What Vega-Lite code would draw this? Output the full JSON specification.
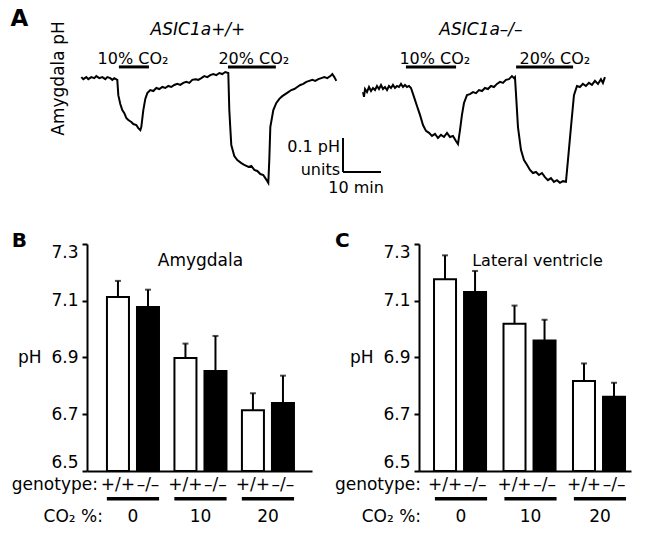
{
  "$schema": "https://vega.github.io/schema/vega-lite/v6.json",
  "background": "white",
  "padding": {"left": 10, "top": 7, "right": 5, "bottom": 5},
  "config": {
    "view": {"stroke": null},
    "font": "DejaVu Sans",
    "text": {"font": "DejaVu Sans", "fontSize": 17, "color": "black"},
    "axis": {"labelFont": "DejaVu Sans", "titleFont": "DejaVu Sans"}
  },
  "datasets": {
    "wt": [
      {"t":0,"pH":7.232},{"t":0.53,"pH":7.226},{"t":1.32,"pH":7.232},{"t":1.84,"pH":7.226},{"t":2.63,"pH":7.232},{"t":3.42,"pH":7.229},{"t":3.95,"pH":7.235},{"t":4.74,"pH":7.229},{"t":5.53,"pH":7.232},{"t":6.32,"pH":7.226},{"t":6.84,"pH":7.232},{"t":7.63,"pH":7.229},{"t":8.16,"pH":7.224},{"t":8.68,"pH":7.229},{"t":9.47,"pH":7.224},
      {"t":9.74,"pH":7.179},{"t":10.26,"pH":7.153},{"t":10.79,"pH":7.135},{"t":11.32,"pH":7.126},{"t":11.84,"pH":7.112},{"t":12.37,"pH":7.106},{"t":13.16,"pH":7.1},{"t":13.68,"pH":7.094},{"t":14.47,"pH":7.091},{"t":15.0,"pH":7.082},{"t":15.53,"pH":7.076},{"t":15.79,"pH":7.085},
      {"t":16.32,"pH":7.135},{"t":16.84,"pH":7.168},{"t":17.37,"pH":7.185},{"t":18.16,"pH":7.194},{"t":18.95,"pH":7.191},{"t":19.74,"pH":7.2},{"t":20.53,"pH":7.197},{"t":21.32,"pH":7.203},{"t":22.11,"pH":7.2},{"t":22.89,"pH":7.206},{"t":23.68,"pH":7.203},{"t":24.47,"pH":7.209},{"t":25.26,"pH":7.212},{"t":26.05,"pH":7.209},{"t":26.84,"pH":7.215},{"t":27.63,"pH":7.218},{"t":28.42,"pH":7.215},{"t":29.21,"pH":7.224},{"t":30.0,"pH":7.226},{"t":30.79,"pH":7.224},{"t":31.58,"pH":7.229},{"t":32.37,"pH":7.235},{"t":33.16,"pH":7.232},{"t":33.95,"pH":7.238},{"t":34.74,"pH":7.241},{"t":35.53,"pH":7.238},{"t":36.32,"pH":7.244},{"t":37.11,"pH":7.241},{"t":37.89,"pH":7.247},{"t":38.68,"pH":7.244},
      {"t":38.95,"pH":7.135},{"t":39.21,"pH":7.082},{"t":39.47,"pH":7.032},{"t":40.26,"pH":7.0},{"t":41.05,"pH":6.988},{"t":42.11,"pH":6.979},{"t":42.89,"pH":6.974},{"t":44.0,"pH":6.968},{"t":44.74,"pH":6.971},{"t":45.53,"pH":6.959},{"t":46.32,"pH":6.956},{"t":47.11,"pH":6.947},{"t":47.89,"pH":6.944},{"t":48.42,"pH":6.935},{"t":48.95,"pH":6.926},{"t":49.21,"pH":6.921},
      {"t":49.47,"pH":6.988},{"t":49.74,"pH":7.085},{"t":50.53,"pH":7.135},{"t":51.32,"pH":7.156},{"t":52.11,"pH":7.168},{"t":52.89,"pH":7.176},{"t":53.68,"pH":7.182},{"t":54.47,"pH":7.188},{"t":55.26,"pH":7.194},{"t":56.05,"pH":7.197},{"t":56.84,"pH":7.203},{"t":57.63,"pH":7.209},{"t":58.42,"pH":7.212},{"t":59.21,"pH":7.218},{"t":60.0,"pH":7.221},{"t":60.79,"pH":7.224},{"t":61.58,"pH":7.221},{"t":62.37,"pH":7.226},{"t":63.16,"pH":7.229},{"t":63.95,"pH":7.232},{"t":64.74,"pH":7.229},{"t":65.53,"pH":7.235},{"t":66.05,"pH":7.241},{"t":66.58,"pH":7.232},{"t":67.11,"pH":7.221}
    ],
    "ko": [
      {"t":0,"pH":7.188},{"t":0.26,"pH":7.174},{"t":0.53,"pH":7.197},{"t":1.05,"pH":7.188},{"t":1.58,"pH":7.203},{"t":2.11,"pH":7.191},{"t":2.63,"pH":7.2},{"t":3.16,"pH":7.194},{"t":3.68,"pH":7.206},{"t":4.21,"pH":7.197},{"t":4.74,"pH":7.209},{"t":5.26,"pH":7.197},{"t":5.79,"pH":7.203},{"t":6.32,"pH":7.194},{"t":6.84,"pH":7.206},{"t":7.37,"pH":7.2},{"t":7.89,"pH":7.209},{"t":8.42,"pH":7.2},{"t":8.95,"pH":7.206},{"t":9.47,"pH":7.203},{"t":10.0,"pH":7.212},{"t":10.53,"pH":7.203},{"t":11.05,"pH":7.209},{"t":11.58,"pH":7.203},{"t":12.11,"pH":7.206},{"t":12.63,"pH":7.2},
      {"t":13.42,"pH":7.174},{"t":14.21,"pH":7.147},{"t":15.0,"pH":7.121},{"t":15.79,"pH":7.091},{"t":16.58,"pH":7.074},{"t":17.37,"pH":7.068},{"t":18.16,"pH":7.059},{"t":18.95,"pH":7.065},{"t":19.74,"pH":7.053},{"t":20.53,"pH":7.062},{"t":21.32,"pH":7.056},{"t":22.11,"pH":7.068},{"t":22.89,"pH":7.056},{"t":23.68,"pH":7.059},{"t":24.47,"pH":7.044},{"t":25.0,"pH":7.035},
      {"t":25.53,"pH":7.076},{"t":26.05,"pH":7.121},{"t":26.58,"pH":7.156},{"t":27.37,"pH":7.179},{"t":28.16,"pH":7.182},{"t":28.95,"pH":7.188},{"t":29.74,"pH":7.185},{"t":30.53,"pH":7.194},{"t":31.32,"pH":7.191},{"t":32.11,"pH":7.2},{"t":32.89,"pH":7.197},{"t":33.68,"pH":7.206},{"t":34.47,"pH":7.203},{"t":35.26,"pH":7.212},{"t":36.05,"pH":7.218},{"t":36.84,"pH":7.215},{"t":37.63,"pH":7.224},{"t":38.42,"pH":7.226},{"t":39.21,"pH":7.235},{"t":39.74,"pH":7.229},{"t":40.0,"pH":7.232},
      {"t":40.26,"pH":7.185},{"t":40.79,"pH":7.085},{"t":41.58,"pH":7.018},{"t":42.37,"pH":6.988},{"t":43.16,"pH":6.974},{"t":43.95,"pH":6.959},{"t":44.74,"pH":6.95},{"t":45.53,"pH":6.953},{"t":46.32,"pH":6.944},{"t":47.11,"pH":6.95},{"t":47.89,"pH":6.938},{"t":48.68,"pH":6.929},{"t":49.47,"pH":6.935},{"t":50.26,"pH":6.924},{"t":51.05,"pH":6.929},{"t":51.84,"pH":6.921},{"t":52.63,"pH":6.926},{"t":53.42,"pH":6.924},
      {"t":53.95,"pH":6.988},{"t":54.74,"pH":7.085},{"t":55.53,"pH":7.179},{"t":56.32,"pH":7.206},{"t":57.11,"pH":7.203},{"t":57.89,"pH":7.212},{"t":58.68,"pH":7.206},{"t":59.47,"pH":7.215},{"t":60.26,"pH":7.209},{"t":61.05,"pH":7.221},{"t":61.84,"pH":7.212},{"t":62.63,"pH":7.226},{"t":63.16,"pH":7.215},{"t":63.68,"pH":7.232}
    ],
    "amyg": [
      {"co2":"0","genotype":"+/+","pH":7.113,"upper":7.170},
      {"co2":"0","genotype":"–/–","pH":7.078,"upper":7.139},
      {"co2":"10","genotype":"+/+","pH":6.898,"upper":6.949},
      {"co2":"10","genotype":"–/–","pH":6.852,"upper":6.976},
      {"co2":"20","genotype":"+/+","pH":6.714,"upper":6.774},
      {"co2":"20","genotype":"–/–","pH":6.740,"upper":6.836}
    ],
    "lv": [
      {"co2":"0","genotype":"+/+","pH":7.176,"upper":7.260},
      {"co2":"0","genotype":"–/–","pH":7.131,"upper":7.205},
      {"co2":"10","genotype":"+/+","pH":7.019,"upper":7.083},
      {"co2":"10","genotype":"–/–","pH":6.960,"upper":7.033},
      {"co2":"20","genotype":"+/+","pH":6.817,"upper":6.879},
      {"co2":"20","genotype":"–/–","pH":6.762,"upper":6.811}
    ],
    "groups": [{"co2":"0"},{"co2":"10"},{"co2":"20"}],
    "one": [{}]
  },
  "spacing": 35,
  "vconcat": [
    {
      "hconcat": [
        {
          "width": 251,
          "height": 170,
          "layer": [
            {
              "data": {"name": "wt"},
              "mark": {"type": "line", "color": "black", "strokeWidth": 2},
              "encoding": {
                "x": {"field": "t", "type": "quantitative", "scale": {"domain": [1.5, 67.55], "nice": false, "zero": false}, "axis": null},
                "y": {"field": "pH", "type": "quantitative", "scale": {"domain": [6.9, 7.4], "nice": false, "zero": false}, "axis": null}
              }
            },
            {
              "data": {"values": [{"start": 9.9, "end": 17.8, "mid": 13.6, "label": "10% CO₂"}, {"start": 38.6, "end": 51.2, "mid": 45.4, "label": "20% CO₂"}]},
              "layer": [
                {
                  "mark": {"type": "rule", "color": "black", "strokeWidth": 3},
                  "encoding": {"x": {"field": "start", "type": "quantitative"}, "x2": {"field": "end"}, "y": {"datum": 7.262}}
                },
                {
                  "mark": {"type": "text", "baseline": "alphabetic", "fontSize": 16},
                  "encoding": {"x": {"field": "mid", "type": "quantitative"}, "y": {"datum": 7.2706}, "text": {"field": "label"}}
                }
              ]
            },
            {
              "data": {"name": "one"},
              "mark": {"type": "text", "baseline": "alphabetic", "fontSize": 17, "fontStyle": "italic", "text": "ASIC1a+/+"},
              "encoding": {"x": {"datum": 30.7}, "y": {"datum": 7.356}}
            },
            {
              "data": {"name": "one"},
              "mark": {"type": "text", "baseline": "middle", "fontSize": 23, "fontWeight": "bold", "text": "A"},
              "encoding": {"x": {"datum": -16.26}, "y": {"datum": 7.404}}
            },
            {
              "data": {"name": "one"},
              "mark": {"type": "text", "baseline": "middle", "align": "center", "angle": 270, "fontSize": 17, "text": "Amygdala pH"},
              "encoding": {"x": {"datum": -5.87}, "y": {"datum": 7.228}}
            },
            {
              "data": {"name": "one"},
              "mark": {"type": "rule", "color": "black", "strokeWidth": 2},
              "encoding": {"x": {"datum": 68.87}, "y": {"datum": 7.053}, "y2": {"datum": 6.953}}
            },
            {
              "data": {"name": "one"},
              "mark": {"type": "rule", "color": "black", "strokeWidth": 2},
              "encoding": {"x": {"datum": 68.87}, "x2": {"datum": 78.87}, "y": {"datum": 6.953}}
            },
            {
              "data": {"name": "one"},
              "mark": {"type": "text", "align": "right", "baseline": "middle", "fontSize": 16, "text": "0.1 pH"},
              "encoding": {"x": {"datum": 68.08}, "y": {"datum": 7.026}}
            },
            {
              "data": {"name": "one"},
              "mark": {"type": "text", "align": "right", "baseline": "middle", "fontSize": 16, "text": "units"},
              "encoding": {"x": {"datum": 68.08}, "y": {"datum": 6.959}}
            },
            {
              "data": {"name": "one"},
              "mark": {"type": "text", "align": "center", "baseline": "middle", "fontSize": 16, "text": "10 min"},
              "encoding": {"x": {"datum": 72.3}, "y": {"datum": 6.906}}
            }
          ]
        },
        {
          "width": 242,
          "height": 170,
          "layer": [
            {
              "data": {"name": "ko"},
              "mark": {"type": "line", "color": "black", "strokeWidth": 2},
              "encoding": {
                "x": {"field": "t", "type": "quantitative", "scale": {"domain": [0, 63.7], "nice": false, "zero": false}, "axis": null},
                "y": {"field": "pH", "type": "quantitative", "scale": {"domain": [6.9, 7.4], "nice": false, "zero": false}, "axis": null}
              }
            },
            {
              "data": {"values": [{"start": 11.3, "end": 24.5, "mid": 18.9, "label": "10% CO₂"}, {"start": 40.3, "end": 55.3, "mid": 50.5, "label": "20% CO₂"}]},
              "layer": [
                {
                  "mark": {"type": "rule", "color": "black", "strokeWidth": 3},
                  "encoding": {"x": {"field": "start", "type": "quantitative"}, "x2": {"field": "end"}, "y": {"datum": 7.262}}
                },
                {
                  "mark": {"type": "text", "baseline": "alphabetic", "fontSize": 16},
                  "encoding": {"x": {"field": "mid", "type": "quantitative"}, "y": {"datum": 7.2706}, "text": {"field": "label"}}
                }
              ]
            },
            {
              "data": {"name": "one"},
              "mark": {"type": "text", "baseline": "alphabetic", "fontSize": 17, "fontStyle": "italic", "text": "ASIC1a–/–"},
              "encoding": {"x": {"datum": 31.05}, "y": {"datum": 7.356}}
            }
          ]
        }
      ],
      "spacing": 25,
      "bounds": "flush"
    },
    {
      "hconcat": [
        {
          "width": 225,
          "height": 227,
          "title": {"text": "B", "anchor": "start", "frame": "bounds", "fontSize": 20, "fontWeight": "bold", "offset": -8, "baseline": "top", "color": "black", "font": "DejaVu Sans"},
          "layer": [
            {
              "data": {"name": "amyg"},
              "mark": {"type": "bar", "stroke": "black", "strokeWidth": 2},
              "encoding": {
                "x": {"field": "co2", "type": "nominal", "scale": {"domain": ["0", "10", "20"], "paddingInner": 0.14, "paddingOuter": 0.237, "align": 0.53}, "axis": {"labels": false, "ticks": false, "title": null, "domainColor": "black", "domainWidth": 2, "grid": false}},
                "xOffset": {"field": "genotype", "type": "nominal", "scale": {"domain": ["+/+", "–/–"], "paddingInner": 0.267, "paddingOuter": 0.1}},
                "y": {"field": "pH", "type": "quantitative", "scale": {"domain": [6.5, 7.3], "nice": false, "zero": false},
                  "axis": {"values": [6.5, 6.6, 6.7, 6.8, 6.9, 7.0, 7.1, 7.2, 7.3], "format": ".1f", "labelExpr": "round(datum.value*10) % 2 == 1 ? datum.label : ''", "labelFlush": true, "labelOverlap": false, "tickSize": 5, "tickWidth": 2, "tickColor": "black", "domainColor": "black", "domainWidth": 2, "labelFontSize": 17, "labelColor": "black", "labelPadding": 4, "grid": false, "title": "pH", "titleAngle": 0, "titleAlign": "right", "titleBaseline": "middle", "titleFontSize": 17, "titleFontWeight": "normal", "titleColor": "black", "titlePadding": 10}},
                "y2": {"datum": 6.5},
                "fill": {"field": "genotype", "type": "nominal", "scale": {"domain": ["+/+", "–/–"], "range": ["white", "black"]}, "legend": null}
              }
            },
            {
              "data": {"name": "amyg"},
              "mark": {"type": "rule", "color": "black", "strokeWidth": 2},
              "encoding": {"x": {"field": "co2", "type": "nominal"}, "xOffset": {"field": "genotype", "type": "nominal"}, "y": {"field": "pH", "type": "quantitative"}, "y2": {"field": "upper"}}
            },
            {
              "data": {"name": "amyg"},
              "mark": {"type": "tick", "color": "black", "thickness": 2, "size": 6},
              "encoding": {"x": {"field": "co2", "type": "nominal"}, "xOffset": {"field": "genotype", "type": "nominal"}, "y": {"field": "upper", "type": "quantitative"}}
            },
            {
              "data": {"name": "amyg"},
              "mark": {"type": "text", "baseline": "alphabetic", "fontSize": 17},
              "encoding": {"x": {"field": "co2", "type": "nominal"}, "xOffset": {"field": "genotype", "type": "nominal"}, "y": {"datum": 6.433}, "text": {"field": "genotype"}}
            },
            {
              "data": {"values": [{"co2": "0", "label": "genotype:"}]},
              "mark": {"type": "text", "align": "right", "baseline": "alphabetic", "dx": -6, "fontSize": 17},
              "encoding": {"x": {"field": "co2", "type": "nominal", "bandPosition": 0}, "y": {"datum": 6.433}, "text": {"field": "label"}}
            },
            {
              "data": {"values": [{"co2": "0", "label": "CO₂ %:"}]},
              "mark": {"type": "text", "align": "right", "baseline": "alphabetic", "dx": -1, "fontSize": 17},
              "encoding": {"x": {"field": "co2", "type": "nominal", "bandPosition": 0}, "y": {"datum": 6.3203}, "text": {"field": "label"}}
            },
            {
              "data": {"name": "groups"},
              "mark": {"type": "bar", "color": "black", "width": {"band": 0.9}},
              "encoding": {"x": {"field": "co2", "type": "nominal"}, "y": {"datum": 6.4084}, "y2": {"datum": 6.396}}
            },
            {
              "data": {"name": "groups"},
              "mark": {"type": "text", "baseline": "alphabetic", "fontSize": 17},
              "encoding": {"x": {"field": "co2", "type": "nominal"}, "y": {"datum": 6.3203}, "text": {"field": "co2"}}
            },
            {
              "data": {"values": [{"co2": "10", "label": "Amygdala"}]},
              "mark": {"type": "text", "baseline": "alphabetic", "fontSize": 17},
              "encoding": {"x": {"field": "co2", "type": "nominal"}, "y": {"datum": 7.2225}, "text": {"field": "label"}}
            }
          ]
        },
        {
          "width": 212,
          "height": 227,
          "title": {"text": "C", "anchor": "start", "frame": "bounds", "fontSize": 20, "fontWeight": "bold", "offset": -8, "baseline": "top", "color": "black", "font": "DejaVu Sans"},
          "layer": [
            {
              "data": {"name": "lv"},
              "mark": {"type": "bar", "stroke": "black", "strokeWidth": 2},
              "encoding": {
                "x": {"field": "co2", "type": "nominal", "scale": {"domain": ["0", "10", "20"], "paddingInner": 0.137, "paddingOuter": 0.094, "align": 0.92}, "axis": {"labels": false, "ticks": false, "title": null, "domainColor": "black", "domainWidth": 2, "grid": false}},
                "xOffset": {"field": "genotype", "type": "nominal", "scale": {"domain": ["+/+", "–/–"], "paddingInner": 0.29, "paddingOuter": 0.1125}},
                "y": {"field": "pH", "type": "quantitative", "scale": {"domain": [6.5, 7.3], "nice": false, "zero": false},
                  "axis": {"values": [6.5, 6.6, 6.7, 6.8, 6.9, 7.0, 7.1, 7.2, 7.3], "format": ".1f", "labelExpr": "round(datum.value*10) % 2 == 1 ? datum.label : ''", "labelFlush": true, "labelOverlap": false, "tickSize": 5, "tickWidth": 2, "tickColor": "black", "domainColor": "black", "domainWidth": 2, "labelFontSize": 17, "labelColor": "black", "labelPadding": 4, "grid": false, "title": "pH", "titleAngle": 0, "titleAlign": "right", "titleBaseline": "middle", "titleFontSize": 17, "titleFontWeight": "normal", "titleColor": "black", "titlePadding": 10}},
                "y2": {"datum": 6.5},
                "fill": {"field": "genotype", "type": "nominal", "scale": {"domain": ["+/+", "–/–"], "range": ["white", "black"]}, "legend": null}
              }
            },
            {
              "data": {"name": "lv"},
              "mark": {"type": "rule", "color": "black", "strokeWidth": 2},
              "encoding": {"x": {"field": "co2", "type": "nominal"}, "xOffset": {"field": "genotype", "type": "nominal"}, "y": {"field": "pH", "type": "quantitative"}, "y2": {"field": "upper"}}
            },
            {
              "data": {"name": "lv"},
              "mark": {"type": "tick", "color": "black", "thickness": 2, "size": 6},
              "encoding": {"x": {"field": "co2", "type": "nominal"}, "xOffset": {"field": "genotype", "type": "nominal"}, "y": {"field": "upper", "type": "quantitative"}}
            },
            {
              "data": {"name": "lv"},
              "mark": {"type": "text", "baseline": "alphabetic", "fontSize": 17},
              "encoding": {"x": {"field": "co2", "type": "nominal"}, "xOffset": {"field": "genotype", "type": "nominal"}, "y": {"datum": 6.433}, "text": {"field": "genotype"}}
            },
            {
              "data": {"values": [{"co2": "0", "label": "genotype:"}]},
              "mark": {"type": "text", "align": "right", "baseline": "alphabetic", "dx": -10, "fontSize": 17},
              "encoding": {"x": {"field": "co2", "type": "nominal", "bandPosition": 0}, "y": {"datum": 6.433}, "text": {"field": "label"}}
            },
            {
              "data": {"values": [{"co2": "0", "label": "CO₂ %:"}]},
              "mark": {"type": "text", "align": "right", "baseline": "alphabetic", "dx": -10, "fontSize": 17},
              "encoding": {"x": {"field": "co2", "type": "nominal", "bandPosition": 0}, "y": {"datum": 6.3203}, "text": {"field": "label"}}
            },
            {
              "data": {"name": "groups"},
              "mark": {"type": "bar", "color": "black", "width": {"band": 0.87}},
              "encoding": {"x": {"field": "co2", "type": "nominal"}, "y": {"datum": 6.4084}, "y2": {"datum": 6.396}}
            },
            {
              "data": {"name": "groups"},
              "mark": {"type": "text", "baseline": "alphabetic", "fontSize": 17},
              "encoding": {"x": {"field": "co2", "type": "nominal"}, "y": {"datum": 6.3203}, "text": {"field": "co2"}}
            },
            {
              "data": {"values": [{"co2": "10", "label": "Lateral ventricle"}]},
              "mark": {"type": "text", "baseline": "alphabetic", "fontSize": 16, "dx": 7},
              "encoding": {"x": {"field": "co2", "type": "nominal"}, "y": {"datum": 7.2225}, "text": {"field": "label"}}
            }
          ]
        }
      ],
      "spacing": 107,
      "bounds": "flush"
    }
  ]
}
